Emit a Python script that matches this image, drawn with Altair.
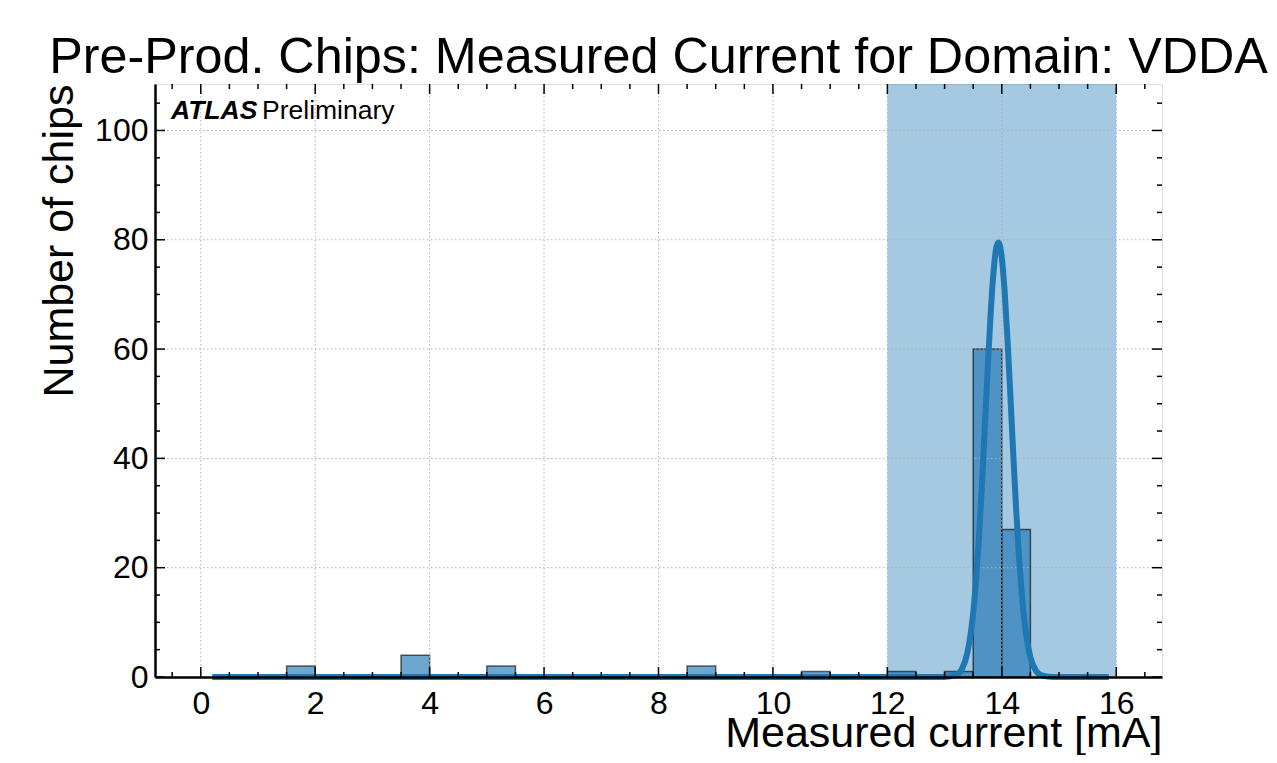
import altair as alt
import pandas as pd

# ---------------- data ----------------
bin_left = [1.5, 3.5, 5.0, 8.5, 10.5, 12.0, 13.0, 13.5, 14.0]
bin_right = [2.0, 4.0, 5.5, 9.0, 11.0, 12.5, 13.5, 14.0, 14.5]
counts = [2, 4, 2, 2, 1, 1, 1, 60, 27]

fit_x = [0.2, 13.0, 13.2, 13.3, 13.4, 13.5, 13.55, 13.6, 13.65, 13.7, 13.75, 13.8,
         13.85, 13.9, 13.94, 14.0, 14.05, 14.1, 14.15, 14.2, 14.25, 14.3, 14.35,
         14.4, 14.5, 14.6, 14.7, 14.9, 15.87]
fit_y = [0.0, 0.0, 0.4, 1.4, 4.5, 11.7, 17.7, 25.4, 34.6, 45.0, 55.7, 65.5,
         73.4, 78.3, 79.5, 76.7, 70.5, 61.7, 51.5, 40.8, 30.8, 22.1, 15.1,
         9.8, 3.6, 1.1, 0.3, 0.0, 0.0]

band_lo = [12.0]
band_hi = [16.0]

x_major = [0, 2, 4, 6, 8, 10, 12, 14, 16]
x_minor = [-0.5, 0.5, 1, 1.5, 2.5, 3, 3.5, 4.5, 5, 5.5, 6.5, 7, 7.5, 8.5, 9, 9.5,
           10.5, 11, 11.5, 12.5, 13, 13.5, 14.5, 15, 15.5, 16.5]
y_major = [0, 20, 40, 60, 80, 100]
y_minor = [5, 10, 15, 25, 30, 35, 45, 50, 55, 65, 70, 75, 85, 90, 95, 105]

x_domain = [-0.8, 16.8]
y_domain = [0, 108.5]

TITLE = "Pre-Prod. Chips: Measured Current for Domain: VDDA"
XTITLE = "Measured current [mA]"
YTITLE = "Number of chips"

# ---------------- layout ----------------
W, H = 1007, 593
FONT = "Liberation Sans, Arial, Helvetica, sans-serif"
BLUE = "#1f77b4"

xs = alt.Scale(domain=x_domain, nice=False, zero=False)
ys = alt.Scale(domain=y_domain, nice=False, zero=False)

bars_df = pd.DataFrame({"lo": bin_left, "hi": bin_right, "n": counts, "base": [0] * len(counts)})
fit_df = pd.DataFrame({"x": fit_x, "y": fit_y})
band_df = pd.DataFrame({"lo": band_lo, "hi": band_hi, "b": [y_domain[0]], "t": [y_domain[1]]})
xmaj_df = pd.DataFrame({"v": x_major})
xmin_df = pd.DataFrame({"v": x_minor})
ymaj_df = pd.DataFrame({"v": y_major})
ymin_df = pd.DataFrame({"v": y_minor})

x_axis = alt.Axis(values=x_major, format="d", labelFontSize=32, labelFont=FONT, labelColor="black",
                  labelPadding=11, labelFlush=False, labelOverlap=False, ticks=False, grid=False,
                  domainColor="black", domainWidth=2.5, title=XTITLE, titleFont=FONT,
                  titleFontSize=43, titleFontWeight="normal", titleColor="black",
                  titleAlign="right", titleAnchor="end", titleBaseline="alphabetic",
                  titleX=W, titleY=69, zindex=1)
y_axis = alt.Axis(values=y_major, format="d", labelFontSize=32, labelFont=FONT, labelColor="black",
                  labelPadding=7, labelFlush=False, labelOverlap=False, ticks=False, grid=False,
                  domainColor="black", domainWidth=2.5, title=YTITLE, titleFont=FONT,
                  titleFontSize=43, titleFontWeight="normal", titleColor="black",
                  titleAngle=270, titleAlign="right", titleAnchor="end",
                  titleBaseline="alphabetic", titleX=-83, titleY=0, zindex=1)

band = alt.Chart(band_df).mark_rect(color=BLUE, opacity=0.4).encode(
    x=alt.X("lo:Q", scale=xs, axis=x_axis),
    x2="hi:Q",
    y=alt.Y("b:Q", scale=ys, axis=y_axis),
    y2="t:Q",
)

bars = alt.Chart(bars_df).mark_rect(fill=BLUE, fillOpacity=0.65, stroke="black",
                                    strokeOpacity=0.6, strokeWidth=1.5).encode(
    x=alt.X("lo:Q", scale=xs), x2="hi:Q",
    y=alt.Y("base:Q", scale=ys), y2="n:Q",
)

grid_style = dict(color="#b0b0b0", strokeWidth=1, strokeDash=[1.5, 2.5])
xgrid = alt.Chart(xmaj_df).mark_rule(**grid_style).encode(
    x=alt.X("v:Q", scale=xs), y=alt.value(0), y2=alt.value(H))
ygrid = alt.Chart(ymaj_df).mark_rule(**grid_style).encode(
    y=alt.Y("v:Q", scale=ys), x=alt.value(0), x2=alt.value(W))

curve = alt.Chart(fit_df).mark_line(color=BLUE, strokeWidth=6, interpolate="monotone").encode(
    x=alt.X("x:Q", scale=xs), y=alt.Y("y:Q", scale=ys))

tk = dict(color="black", strokeWidth=1.5)
MAJ, MIN = 10, 5
ticks = [
    alt.Chart(xmaj_df).mark_rule(**tk).encode(x=alt.X("v:Q", scale=xs), y=alt.value(H), y2=alt.value(H - MAJ)),
    alt.Chart(xmaj_df).mark_rule(**tk).encode(x=alt.X("v:Q", scale=xs), y=alt.value(0), y2=alt.value(MAJ)),
    alt.Chart(xmin_df).mark_rule(**tk).encode(x=alt.X("v:Q", scale=xs), y=alt.value(H), y2=alt.value(H - MIN)),
    alt.Chart(xmin_df).mark_rule(**tk).encode(x=alt.X("v:Q", scale=xs), y=alt.value(0), y2=alt.value(MIN)),
    alt.Chart(ymaj_df).mark_rule(**tk).encode(y=alt.Y("v:Q", scale=ys), x=alt.value(0), x2=alt.value(MAJ)),
    alt.Chart(ymaj_df).mark_rule(**tk).encode(y=alt.Y("v:Q", scale=ys), x=alt.value(W), x2=alt.value(W - MAJ)),
    alt.Chart(ymin_df).mark_rule(**tk).encode(y=alt.Y("v:Q", scale=ys), x=alt.value(0), x2=alt.value(MIN)),
    alt.Chart(ymin_df).mark_rule(**tk).encode(y=alt.Y("v:Q", scale=ys), x=alt.value(W), x2=alt.value(W - MIN)),
]

one = pd.DataFrame({"k": [0]})
atlas = alt.Chart(one).mark_text(text="ATLAS", font=FONT, fontSize=26.5, fontWeight="bold",
                                 fontStyle="italic", align="left", baseline="alphabetic",
                                 color="black").encode(x=alt.value(16), y=alt.value(35))
prelim = alt.Chart(one).mark_text(text="Preliminary", font=FONT, fontSize=26.5,
                                  align="left", baseline="alphabetic",
                                  color="black").encode(x=alt.value(107), y=alt.value(35))
title = alt.Chart(one).mark_text(text=TITLE, font=FONT, fontSize=50.3, align="center",
                                 baseline="alphabetic", color="black").encode(
    x=alt.value(W / 2), y=alt.value(-11))

chart = alt.layer(band, bars, xgrid, ygrid, curve, *ticks, atlas, prelim, title).properties(
    width=W, height=H,
    autosize=alt.AutoSizeParams(type="none"),
    padding={"left": 147, "top": 76, "right": 107, "bottom": 78},
).configure_view(stroke="black", strokeWidth=2.5).configure(background="white")

chart.save("out.html", embed_options={"renderer": "svg", "actions": False})
